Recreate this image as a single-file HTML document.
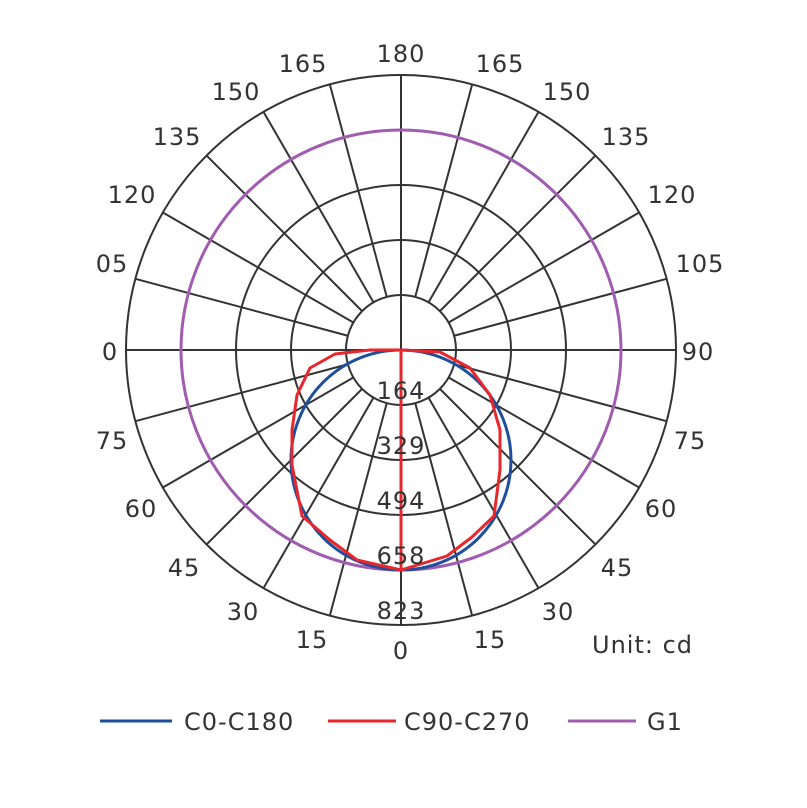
<!DOCTYPE html>
<html><head><meta charset="utf-8"><style>
html,body{margin:0;padding:0;background:#fff;}
svg text{font-family:"DejaVu Sans","Liberation Sans",sans-serif;font-size:24px;letter-spacing:1px;fill:#333;}
</style></head><body>
<svg id="s" width="807" height="803" xmlns="http://www.w3.org/2000/svg">
<g stroke="#333" stroke-width="2" fill="none">
<circle cx="401" cy="350" r="55"/>
<circle cx="401" cy="350" r="110"/>
<circle cx="401" cy="350" r="165"/>
<circle cx="401" cy="350" r="220"/>
<circle cx="401" cy="350" r="275"/>
<g id="spokes"></g>
</g>
<circle cx="401" cy="350" r="220" stroke="#a05cb0" stroke-width="3" fill="none"/>
<circle cx="401" cy="460" r="110" stroke="#1f4e9c" stroke-width="3" fill="none"/>
<polyline stroke="#e8262b" stroke-width="3" fill="none" stroke-linejoin="round" points="401,350 370,350 335,354 310,368 297,395 292,430 292,465 302,516 330,540 357,560 401,570 447,556 472,537 494,516 500,470 500,430 490,395 470,368 440,352 401,350"/>
<line x1="401" y1="350" x2="401" y2="570" stroke="#e8262b" stroke-width="3"/>
<g text-anchor="middle">
<text x="401" y="62">180</text>
<text x="303" y="72">165</text><text x="500" y="72">165</text>
<text x="236" y="100">150</text><text x="567" y="100">150</text>
<text x="177" y="145">135</text><text x="626" y="145">135</text>
<text x="132" y="203">120</text><text x="672" y="203">120</text>
<text x="112" y="272">05</text><text x="700" y="272">105</text>
<text x="110" y="360">0</text><text x="698" y="360">90</text>
<text x="112" y="449">75</text><text x="690" y="449">75</text>
<text x="141" y="517">60</text><text x="661" y="517">60</text>
<text x="184" y="576">45</text><text x="617" y="576">45</text>
<text x="243" y="620">30</text><text x="558" y="620">30</text>
<text x="312" y="648">15</text><text x="490" y="648">15</text>
<text x="401" y="659">0</text>
<text x="401" y="399">164</text>
<text x="401" y="454">329</text>
<text x="401" y="509">494</text>
<text x="401" y="564">658</text>
<text x="401" y="619">823</text>
</g>
<text x="592" y="653">Unit: cd</text>
<line x1="100" y1="721" x2="172" y2="721" stroke="#1f4e9c" stroke-width="3"/>
<text x="184" y="730">C0-C180</text>
<line x1="328" y1="721" x2="396" y2="721" stroke="#e8262b" stroke-width="3"/>
<text x="404" y="730">C90-C270</text>
<line x1="568" y1="721" x2="636" y2="721" stroke="#a05cb0" stroke-width="3"/>
<text x="647" y="730">G1</text>
</svg>
<script>
var g=document.getElementById('spokes'),h='';
for(var a=0;a<360;a+=15){var t=a*Math.PI/180,s=Math.sin(t),c=Math.cos(t);
h+='<line x1="'+(401+55*s)+'" y1="'+(350+55*c)+'" x2="'+(401+275*s)+'" y2="'+(350+275*c)+'"/>';}
h+='<line x1="126" y1="350" x2="676" y2="350"/><line x1="401" y1="75" x2="401" y2="625"/>';
g.innerHTML=h;
</script>
</body></html>
